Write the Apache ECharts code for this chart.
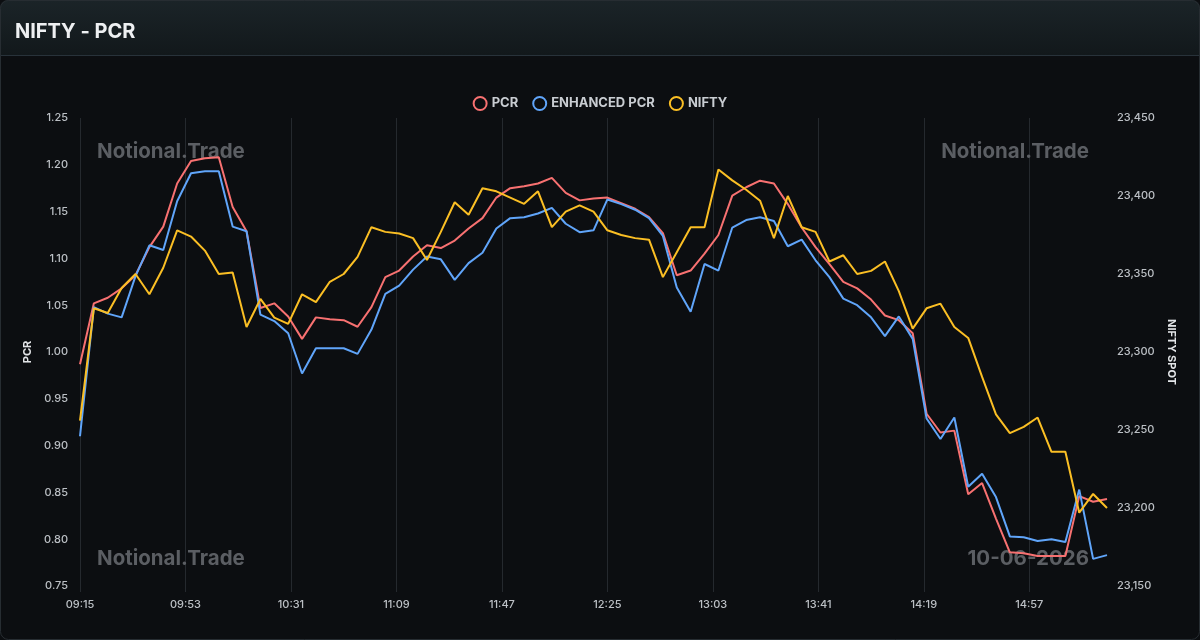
<!DOCTYPE html>
<html>
<head>
<meta charset="utf-8">
<script src="https://cdn.jsdelivr.net/npm/echarts@6/dist/echarts.min.js"></script>
<style>
  html, body { margin: 0; padding: 0; background: #0c0e11; }
  #chart { width: 1200px; height: 640px; }
</style>
</head>
<body>
<div id="chart"></div>
<script>
// ---- data (5-minute samples) ----
const times = ['09:15','09:20','09:25','09:30','09:35','09:40','09:45','09:50','09:55',
  '10:00','10:05','10:10','10:15','10:20','10:25','10:30','10:35','10:40','10:45','10:50','10:55',
  '11:00','11:05','11:10','11:15','11:20','11:25','11:30','11:35','11:40','11:45','11:50','11:55',
  '12:00','12:05','12:10','12:15','12:20','12:25','12:30','12:35','12:40','12:45','12:50','12:55',
  '13:00','13:05','13:10','13:15','13:20','13:25','13:30','13:35','13:40','13:45','13:50','13:55',
  '14:00','14:05','14:10','14:15','14:20','14:25','14:30','14:35','14:40','14:45','14:50','14:55',
  '15:00','15:05','15:10','15:15','15:20','15:25'];

const pcr = [0.987,1.052,1.058,1.068,1.082,1.112,1.134,1.180,1.204,1.207,1.208,1.155,1.129,1.047,1.052,
  1.038,1.014,1.037,1.035,1.034,1.027,1.048,1.080,1.087,1.102,1.114,1.111,1.119,1.132,1.143,
  1.165,1.175,1.177,1.180,1.186,1.170,1.162,1.164,1.165,1.159,1.153,1.144,1.127,1.082,1.087,
  1.105,1.125,1.167,1.176,1.183,1.180,1.158,1.133,1.112,1.094,1.075,1.068,1.056,1.039,1.034,
  1.020,0.934,0.914,0.916,0.848,0.860,0.822,0.786,0.785,0.782,0.782,0.782,0.846,0.840,0.843];

const enhancedPcr = [0.910,1.048,1.041,1.037,1.081,1.114,1.109,1.161,1.191,1.193,1.193,1.134,1.129,1.040,1.033,
  1.020,0.977,1.004,1.004,1.004,0.998,1.024,1.062,1.071,1.088,1.102,1.099,1.077,1.095,1.106,
  1.132,1.143,1.144,1.148,1.154,1.137,1.128,1.130,1.163,1.158,1.152,1.143,1.124,1.069,1.043,
  1.094,1.087,1.133,1.141,1.144,1.140,1.113,1.120,1.098,1.080,1.057,1.050,1.037,1.017,1.038,
  1.014,0.929,0.907,0.930,0.856,0.870,0.845,0.803,0.802,0.798,0.800,0.797,0.853,0.779,0.783];

const nifty = [23256,23328,23325,23341,23350,23337,23354,23378,23374,23365,23350,23351,23316,23334,23322,
  23318,23337,23332,23345,23350,23361,23380,23377,23376,23373,23359,23377,23396,23388,23405,
  23403,23399,23395,23403,23380,23390,23394,23390,23378,23375,23373,23372,23348,23364,23380,
  23380,23417,23410,23404,23397,23373,23400,23380,23377,23358,23362,23350,23352,23358,23339,
  23315,23328,23331,23316,23309,23284,23260,23248,23252,23258,23236,23236,23197,23209,23200];

// minute-level category axis 09:15 .. 15:25
const startMinute = 9 * 60 + 15, endMinute = 15 * 60 + 25;
const minuteCategories = [];
for (let m = startMinute; m <= endMinute; m++) {
  const h = Math.floor(m / 60), mm = m % 60;
  minuteCategories.push(String(h).padStart(2, '0') + ':' + String(mm).padStart(2, '0'));
}

const seriesNames = ['PCR', 'ENHANCED PCR', 'NIFTY'];
const colors = ['#f87171', '#60a5fa', '#fbbf24'];
const FONT = 'Inter, "Noto Sans", sans-serif';

const chart = echarts.init(document.getElementById('chart'), null, { renderer: 'canvas' });

const wmStyle = (text, extra) => Object.assign({
  text: text, fill: '#5b5e63', font: 'bold 20.5px ' + FONT
}, extra);

const option = {
  animation: false,
  backgroundColor: '#0c0e11',
  textStyle: { fontFamily: FONT },
  title: {
    text: 'NIFTY - PCR', left: 15, top: 22, padding: 0,
    textStyle: { color: '#eef0f2', fontSize: 20, fontWeight: 'bold', fontFamily: FONT }
  },
  graphic: [
    { type: 'rect', z: -10, silent: true,
      shape: { x: 0, y: 0, width: 1200, height: 55, r: [8, 8, 0, 0] },
      style: { fill: new echarts.graphic.LinearGradient(0, 0, 0, 1, [
        { offset: 0, color: '#1b2428' }, { offset: 1, color: '#12181b' }]) } },
    { type: 'line', z: -9, silent: true,
      shape: { x1: 0, y1: 55.5, x2: 1200, y2: 55.5 },
      style: { stroke: '#28323a', lineWidth: 1 } },
    { type: 'rect', z: 100, silent: true,
      shape: { x: 0.5, y: 0.5, width: 1199, height: 639, r: 8 },
      style: { fill: 'none', stroke: '#272d32', lineWidth: 1 } },
    { type: 'text', z: 1, silent: true, x: 97, y: 152,
      style: wmStyle('Notional.Trade', { align: 'left', verticalAlign: 'middle' }) },
    { type: 'text', z: 1, silent: true, x: 1089, y: 152,
      style: wmStyle('Notional.Trade', { align: 'right', verticalAlign: 'middle' }) },
    { type: 'text', z: 1, silent: true, x: 97, y: 559,
      style: wmStyle('Notional.Trade', { align: 'left', verticalAlign: 'middle' }) },
    { type: 'text', z: 1, silent: true, x: 1089, y: 559,
      style: wmStyle('10-06-2026', { align: 'right', verticalAlign: 'middle' }) }
  ],
  legend: {
    top: 91, left: 'center', icon: 'circle', itemWidth: 13, itemHeight: 13, itemGap: 14,
    textStyle: { color: '#c9cdd2', fontSize: 13, fontWeight: 'bold', fontFamily: FONT },
    data: seriesNames.map((n, i) => ({
      name: n, itemStyle: { color: '#0c0e11', borderColor: colors[i], borderWidth: 2 }
    }))
  },
  grid: { left: 80, right: 93, top: 118, bottom: 54 },
  xAxis: {
    type: 'category', data: minuteCategories, boundaryGap: false,
    axisLine: { show: false },
    axisTick: { show: true, interval: 37, length: 6, lineStyle: { color: '#25292e' } },
    axisLabel: { interval: 37, margin: 13, color: '#bcc0c5', fontSize: 11, fontWeight: 500, fontFamily: FONT },
    splitLine: { show: true, interval: 37, lineStyle: { color: '#25292e', width: 1 } }
  },
  yAxis: [
    { type: 'value', position: 'left', min: 0.75, max: 1.25, interval: 0.05,
      name: 'PCR', nameLocation: 'middle', nameGap: 45, nameRotate: 90,
      nameTextStyle: { color: '#e3e5e8', fontSize: 11, fontWeight: 'bold', fontFamily: FONT },
      axisLine: { show: false }, axisTick: { show: false }, splitLine: { show: false },
      axisLabel: { margin: 12, color: '#bcc0c5', fontSize: 11, fontWeight: 500, fontFamily: FONT,
        formatter: v => v.toFixed(2) } },
    { type: 'value', position: 'right', min: 23150, max: 23450, interval: 50,
      name: 'NIFTY SPOT', nameLocation: 'middle', nameGap: 59, nameRotate: -90,
      nameTextStyle: { color: '#e3e5e8', fontSize: 11, fontWeight: 'bold', fontFamily: FONT },
      axisLine: { show: false }, axisTick: { show: false }, splitLine: { show: false },
      axisLabel: { margin: 10, color: '#bcc0c5', fontSize: 11, fontWeight: 500, fontFamily: FONT,
        formatter: v => v.toLocaleString('en-US') } }
  ],
  series: [
    { name: 'PCR', type: 'line', yAxisIndex: 0, showSymbol: false, symbol: 'none', z: 3,
      lineStyle: { color: colors[0], width: 2 }, itemStyle: { color: colors[0] },
      data: times.map((t, i) => [t, pcr[i]]) },
    { name: 'ENHANCED PCR', type: 'line', yAxisIndex: 0, showSymbol: false, symbol: 'none', z: 3,
      lineStyle: { color: colors[1], width: 2 }, itemStyle: { color: colors[1] },
      data: times.map((t, i) => [t, enhancedPcr[i]]) },
    { name: 'NIFTY', type: 'line', yAxisIndex: 1, showSymbol: false, symbol: 'none', z: 3,
      lineStyle: { color: colors[2], width: 2 }, itemStyle: { color: colors[2] },
      data: times.map((t, i) => [t, nifty[i]]) }
  ]
};
chart.setOption(option);
</script>
</body>
</html>
